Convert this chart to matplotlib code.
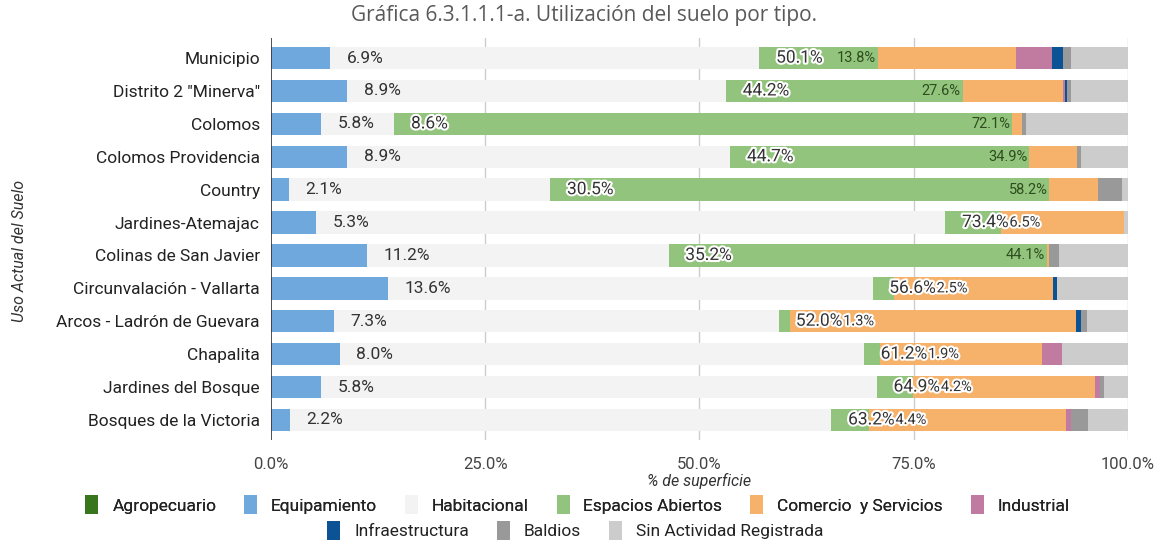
"""Stacked land-use chart by district."""

import matplotlib

matplotlib.use("Agg")
import matplotlib.pyplot as plt
import matplotlib.patheffects as pe
from matplotlib.patches import Patch

plt.rcParams["font.family"] = ["Roboto", "DejaVu Sans"]

districts = [
    "Municipio",
    'Distrito 2 "Minerva"',
    "Colomos",
    "Colomos Providencia",
    "Country",
    "Jardines-Atemajac",
    "Colinas de San Javier",
    "Circunvalación - Vallarta",
    "Arcos - Ladrón de Guevara",
    "Chapalita",
    "Jardines del Bosque",
    "Bosques de la Victoria",
]

land_uses = [
    "Agropecuario",
    "Equipamiento",
    "Habitacional",
    "Espacios Abiertos",
    "Comercio  y Servicios",
    "Industrial",
    "Infraestructura",
    "Baldios",
    "Sin Actividad Registrada",
]

agropecuario = [0.0, 0.0, 0.0, 0.0, 0.0, 0.0, 0.0, 0.0, 0.0, 0.0, 0.0, 0.0]
equipamiento = [6.9, 8.9, 5.8, 8.9, 2.1, 5.3, 11.2, 13.6, 7.3, 8.0, 5.8, 2.2]
habitacional = [50.1, 44.2, 8.6, 44.7, 30.5, 73.4, 35.2, 56.6, 52.0, 61.2, 64.9, 63.2]
espacios_abiertos = [13.8, 27.6, 72.1, 34.9, 58.2, 6.5, 44.1, 2.5, 1.3, 1.9, 4.2, 4.4]
comercio = [16.1, 11.7, 1.1, 5.5, 5.7, 14.3, 0.3, 18.5, 33.3, 18.9, 21.3, 23.0]
industrial = [4.2, 0.2, 0.0, 0.0, 0.0, 0.0, 0.0, 0.0, 0.0, 2.3, 0.5, 0.5]
infraestructura = [1.3, 0.3, 0.0, 0.0, 0.0, 0.0, 0.0, 0.5, 0.6, 0.0, 0.0, 0.0]
baldios = [0.9, 0.5, 0.5, 0.5, 2.8, 0.0, 1.2, 0.0, 0.7, 0.0, 0.5, 2.0]
sin_actividad = [6.7, 6.6, 11.9, 5.5, 0.7, 0.5, 8.0, 8.3, 4.8, 7.7, 2.8, 4.7]

series = [agropecuario, equipamiento, habitacional, espacios_abiertos, comercio,
          industrial, infraestructura, baldios, sin_actividad]
colors = ["#38761d", "#6fa8dc", "#f3f3f3", "#93c47d", "#f6b26b",
          "#c27ba0", "#0b5394", "#999999", "#cccccc"]

fig = plt.figure(figsize=(11.62, 5.40), dpi=100)
ax = fig.add_axes([0.2332, 0.1852, 0.7375, 0.7444])

y = list(range(len(districts)))
left = [0.0] * len(districts)
ends = {}
for name, vals, col in zip(land_uses, series, colors):
    ax.barh(y, vals, left=left, height=0.68, color=col, zorder=2)
    left = [l + v for l, v in zip(left, vals)]
    ends[name] = list(left)

ax.set_xlim(0, 100)
ax.set_ylim(len(districts) - 0.39, -0.61)
ax.set_yticks(y)
ax.set_yticklabels(districts, fontsize=12.5, color="#222222")
ax.set_xticks([0, 25, 50, 75, 100])
ax.set_xticklabels(["0.0%", "25.0%", "50.0%", "75.0%", "100.0%"], fontsize=12, color="#444444")
ax.tick_params(length=0, pad=12)
ax.tick_params(axis="y", pad=8)
for s in ax.spines.values():
    s.set_visible(False)
for gx in [25, 50, 75, 100]:
    ax.axvline(gx, color="#cccccc", lw=1, zorder=1)
ax.axvline(0, color="#333333", lw=1.2, zorder=3)

ax.set_xlabel("% de superficie", fontsize=11.5, style="italic", color="#333333", labelpad=1)
ax.set_ylabel("Uso Actual del Suelo", fontsize=11.5, style="italic", color="#333333")
ax.yaxis.set_label_coords(-0.285, 0.47)

fig.suptitle("Gráfica 6.3.1.1.1-a. Utilización del suelo por tipo.", x=0.503, y=0.99,
             fontsize=15, color="#595959", family="Open Sans")

halo = [pe.withStroke(linewidth=3, foreground="white")]
renderer = fig.canvas.get_renderer()
inv = ax.transData.inverted()

for i in y:
    ax.annotate(f"{equipamiento[i]:.1f}%", xy=(ends["Equipamiento"][i], i), xytext=(12, 0),
                textcoords="offset points", ha="left", va="center", fontsize=12.5,
                color="#333333", zorder=4)
    hab = ax.annotate(f"{habitacional[i]:.1f}%", xy=(ends["Habitacional"][i], i), xytext=(12, 0),
                      textcoords="offset points", ha="left", va="center", fontsize=12.5,
                      color="#333333", path_effects=halo, zorder=5)
    hab_right = inv.transform((hab.get_window_extent(renderer).x1, 0))[0]

    g_end = ends["Espacios Abiertos"][i]
    glab = ax.text(g_end - 0.2, i, f"{espacios_abiertos[i]:.1f}%", ha="right", va="center",
                   fontsize=10.5, color="#2d4d1e", zorder=5)
    g_left = inv.transform((glab.get_window_extent(renderer).x0, 0))[0]
    if g_left < hab_right:
        glab.set_x(hab_right + 0.1)
        glab.set_ha("left")
        glab.set_color("#333333")
        glab.set_path_effects(halo)

handles = [Patch(facecolor=c, edgecolor="none") for c in colors]
leg1 = fig.legend(handles[:6], land_uses[:6], loc="center", bbox_to_anchor=(0.497, 0.065),
                  ncol=6, frameon=False, fontsize=12.5, handlelength=0.75, handleheight=1.3,
                  columnspacing=1.6, handletextpad=0.8, labelcolor="#222222")
fig.legend(handles[6:], land_uses[6:], loc="center", bbox_to_anchor=(0.495, 0.018),
           ncol=3, frameon=False, fontsize=12.5, handlelength=0.75, handleheight=1.3,
           columnspacing=1.6, handletextpad=0.8, labelcolor="#222222")
fig.add_artist(leg1)

fig.savefig("out.png", dpi=100)
plt.close(fig)
